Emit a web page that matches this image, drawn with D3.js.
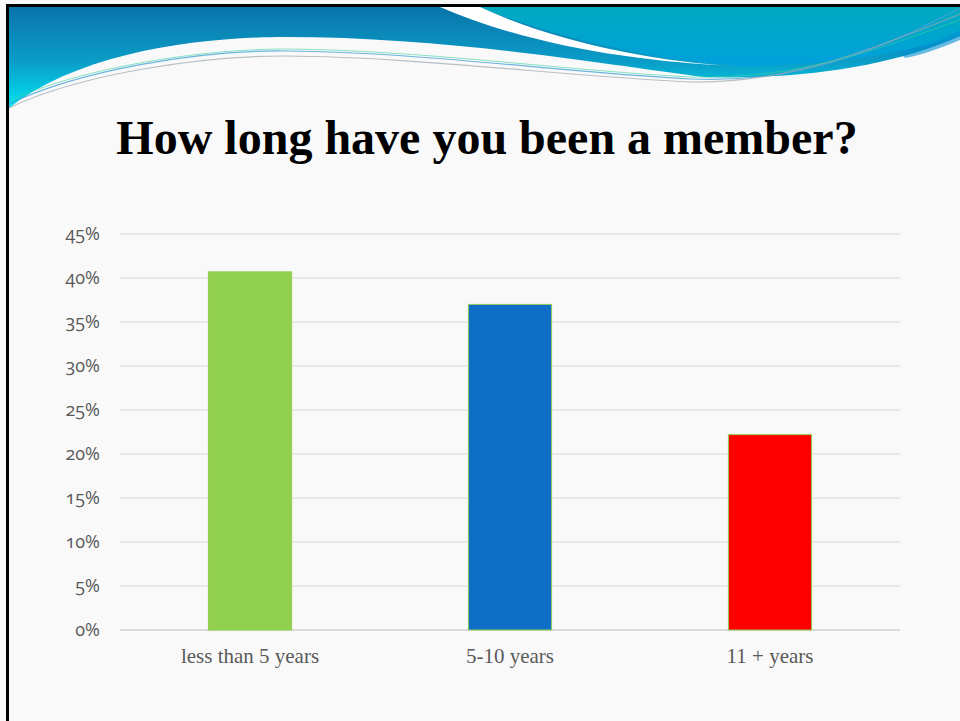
<!DOCTYPE html>
<html>
<head>
<meta charset="utf-8">
<script src="https://cdn.jsdelivr.net/npm/d3@7"></script>
<style>
  html, body { margin: 0; padding: 0; background: #f9f9f9; }
  svg { display: block; }
  .tick-label { font-family: "Open Sans", "Lato", sans-serif; font-feature-settings: "onum" 1; font-variant-numeric: oldstyle-nums; }
</style>
</head>
<body>
<svg id="chart" width="960" height="721"></svg>
<script>
const title = "How long have you been a member?";
const categories = ["less than 5 years", "5-10 years", "11 + years"];
const values = [0.407, 0.370, 0.222];
const colors = ["#92d050", "#0f6fc6", "#ff0000"];
const yTicks = [0, 0.05, 0.10, 0.15, 0.20, 0.25, 0.30, 0.35, 0.40, 0.45];

const svg = d3.select("#chart");
const W = 960, H = 721;

svg.append("rect").attr("width", W).attr("height", H).attr("fill", "#f9f9f9");

const defs = svg.append("defs");
const g1 = defs.append("linearGradient").attr("id", "gA").attr("x1", 0).attr("y1", 0).attr("x2", 0).attr("y2", 1);
g1.append("stop").attr("offset", "0%").attr("stop-color", "#0a74aa");
g1.append("stop").attr("offset", "55%").attr("stop-color", "#0a9ec8");
g1.append("stop").attr("offset", "100%").attr("stop-color", "#00e4f2");
const g2 = defs.append("linearGradient").attr("id", "gB").attr("x1", 0).attr("y1", 0).attr("x2", 0).attr("y2", 1);
g2.append("stop").attr("offset", "0%").attr("stop-color", "#00aac0");
g2.append("stop").attr("offset", "100%").attr("stop-color", "#00a0dc");

svg.append("path")
  .attr("d", "M9,7 L960,7 L960,36 C890,68 790,80 704,77 C600,64 450,37 285,37 C200,37 80,52 9,108 Z")
  .attr("fill", "url(#gA)");
svg.append("path")
  .attr("d", "M478,7 L960,7 L960,36 C900,55 820,66 740,66 C660,60 560,40 478,7 Z")
  .attr("fill", "url(#gB)");
svg.append("path")
  .attr("d", "M900,52 C930,44 945,38 960,30 L960,40 C940,48 925,54 905,58 Z")
  .attr("fill", "#0090d0").attr("opacity", 0.6);
svg.append("path")
  .attr("d", "M440,7 L480,7 C560,44 660,62 735,66 C640,62 530,46 440,7 Z")
  .attr("fill", "#ffffff");
svg.append("path")
  .attr("d", "M9,104 C80,70 200,50 285,51 C420,52 560,72 690,79 C800,84 880,50 960,8")
  .attr("fill", "none").attr("stroke", "#4aa3d8").attr("stroke-width", 1.2).attr("opacity", 0.8);
svg.append("path")
  .attr("d", "M9,108 C80,74 200,56 285,56 C420,57 560,76 690,82 C780,84 860,55 960,14")
  .attr("fill", "none").attr("stroke", "#9aa8b0").attr("stroke-width", 1.2).attr("opacity", 0.7);
svg.append("path")
  .attr("d", "M9,101 C80,68 200,49 285,49 C420,50 560,70 690,77 C800,80 880,48 960,20")
  .attr("fill", "none").attr("stroke", "#3cd0a0").attr("stroke-width", 1).attr("opacity", 0.6);

svg.append("rect").attr("x", 6).attr("y", 4).attr("width", 954).attr("height", 3).attr("fill", "#000");
svg.append("rect").attr("x", 6).attr("y", 4).attr("width", 3).attr("height", 717).attr("fill", "#000");

svg.append("text")
  .attr("x", 487).attr("y", 154)
  .attr("text-anchor", "middle")
  .attr("font-family", "Liberation Serif, 'Times New Roman', serif")
  .attr("font-weight", "bold")
  .attr("font-size", 48)
  .attr("fill", "#000")
  .text(title);

const x = d3.scaleBand().domain(categories).range([120, 900]).paddingInner(0.68).paddingOuter(0.34);
const y = d3.scaleLinear().domain([0, 0.45]).range([630, 234]);

svg.append("g").selectAll("line").data(yTicks).join("line")
  .attr("x1", 120).attr("x2", 900)
  .attr("y1", d => y(d)).attr("y2", d => y(d))
  .attr("stroke", d => d === 0 ? "#d0d0d0" : "#e2e2e2")
  .attr("stroke-width", 1.5);

const yAxis = d3.axisLeft(y).tickValues(yTicks).tickFormat(d3.format(".0%")).tickSize(0).tickPadding(0);
const ya = svg.append("g").attr("transform", "translate(100,0)").call(yAxis);
ya.select(".domain").remove();
ya.selectAll("text")
  .attr("class", "tick-label")
  .attr("font-size", 18)
  .attr("fill", "#595959");

svg.append("g").selectAll("rect").data(values).join("rect")
  .attr("x", (d, i) => x(categories[i]))
  .attr("width", x.bandwidth())
  .attr("y", d => y(d))
  .attr("height", d => y(0) - y(d))
  .attr("fill", (d, i) => colors[i])
  .attr("stroke", "#92d050")
  .attr("stroke-width", 1);

const xAxis = d3.axisBottom(x).tickSize(0).tickPadding(0);
const xa = svg.append("g").attr("transform", "translate(0,648)").call(xAxis);
xa.select(".domain").remove();
xa.selectAll("text")
  .attr("font-family", "Liberation Serif, 'Times New Roman', serif")
  .attr("font-size", 21)
  .attr("fill", "#595959");
</script>
</body>
</html>
